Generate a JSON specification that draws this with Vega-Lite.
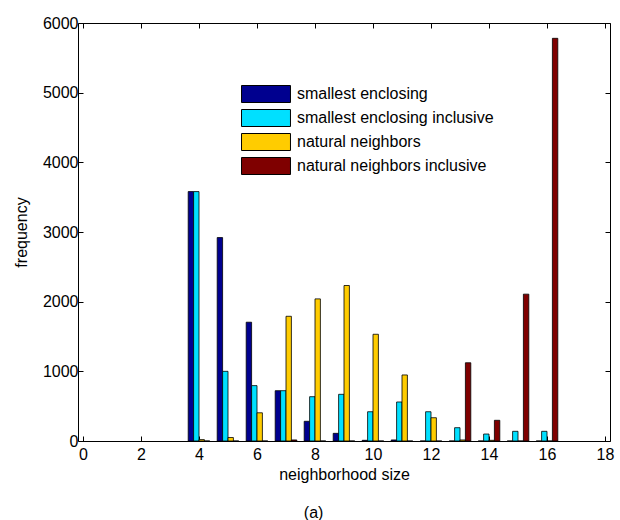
{
  "$schema": "https://vega.github.io/schema/vega-lite/v6.json",
  "width": 532,
  "height": 418,
  "autosize": {"type": "none"},
  "padding": {"left": 78, "top": 23, "right": 10, "bottom": 79},
  "title": {"text": "(a)", "orient": "bottom", "anchor": "middle", "frame": "bounds", "fontSize": 16, "fontWeight": "normal", "font": "Liberation Sans", "color": "black", "offset": 23},
  "data": {"values": [
    {"size": 4, "series": "smallest enclosing", "freq": 3580},
    {"size": 4, "series": "smallest enclosing inclusive", "freq": 3580},
    {"size": 4, "series": "natural neighbors", "freq": 20},
    {"size": 4, "series": "natural neighbors inclusive", "freq": 0},
    {"size": 5, "series": "smallest enclosing", "freq": 2920},
    {"size": 5, "series": "smallest enclosing inclusive", "freq": 1000},
    {"size": 5, "series": "natural neighbors", "freq": 50},
    {"size": 5, "series": "natural neighbors inclusive", "freq": 0},
    {"size": 6, "series": "smallest enclosing", "freq": 1705},
    {"size": 6, "series": "smallest enclosing inclusive", "freq": 795},
    {"size": 6, "series": "natural neighbors", "freq": 405},
    {"size": 6, "series": "natural neighbors inclusive", "freq": 0},
    {"size": 7, "series": "smallest enclosing", "freq": 722},
    {"size": 7, "series": "smallest enclosing inclusive", "freq": 722},
    {"size": 7, "series": "natural neighbors", "freq": 1790},
    {"size": 7, "series": "natural neighbors inclusive", "freq": 15},
    {"size": 8, "series": "smallest enclosing", "freq": 283},
    {"size": 8, "series": "smallest enclosing inclusive", "freq": 636},
    {"size": 8, "series": "natural neighbors", "freq": 2040},
    {"size": 8, "series": "natural neighbors inclusive", "freq": 0},
    {"size": 9, "series": "smallest enclosing", "freq": 110},
    {"size": 9, "series": "smallest enclosing inclusive", "freq": 670},
    {"size": 9, "series": "natural neighbors", "freq": 2232},
    {"size": 9, "series": "natural neighbors inclusive", "freq": 0},
    {"size": 10, "series": "smallest enclosing", "freq": 10},
    {"size": 10, "series": "smallest enclosing inclusive", "freq": 420},
    {"size": 10, "series": "natural neighbors", "freq": 1532},
    {"size": 10, "series": "natural neighbors inclusive", "freq": 0},
    {"size": 11, "series": "smallest enclosing", "freq": 15},
    {"size": 11, "series": "smallest enclosing inclusive", "freq": 560},
    {"size": 11, "series": "natural neighbors", "freq": 948},
    {"size": 11, "series": "natural neighbors inclusive", "freq": 0},
    {"size": 12, "series": "smallest enclosing", "freq": 0},
    {"size": 12, "series": "smallest enclosing inclusive", "freq": 420},
    {"size": 12, "series": "natural neighbors", "freq": 334},
    {"size": 12, "series": "natural neighbors inclusive", "freq": 0},
    {"size": 13, "series": "smallest enclosing", "freq": 0},
    {"size": 13, "series": "smallest enclosing inclusive", "freq": 191},
    {"size": 13, "series": "natural neighbors", "freq": 15},
    {"size": 13, "series": "natural neighbors inclusive", "freq": 1123},
    {"size": 14, "series": "smallest enclosing", "freq": 0},
    {"size": 14, "series": "smallest enclosing inclusive", "freq": 100},
    {"size": 14, "series": "natural neighbors", "freq": 10},
    {"size": 14, "series": "natural neighbors inclusive", "freq": 297},
    {"size": 15, "series": "smallest enclosing", "freq": 0},
    {"size": 15, "series": "smallest enclosing inclusive", "freq": 139},
    {"size": 15, "series": "natural neighbors", "freq": 0},
    {"size": 15, "series": "natural neighbors inclusive", "freq": 2108},
    {"size": 16, "series": "smallest enclosing", "freq": 0},
    {"size": 16, "series": "smallest enclosing inclusive", "freq": 139},
    {"size": 16, "series": "natural neighbors", "freq": 0},
    {"size": 16, "series": "natural neighbors inclusive", "freq": 5780}
  ]},
  "config": {
    "font": "Liberation Sans",
    "view": {"stroke": "black", "strokeWidth": 1},
    "axis": {
      "domain": false,
      "grid": false,
      "tickColor": "black",
      "tickSize": -5,
      "tickWidth": 1,
      "labelColor": "black",
      "labelFontSize": 16,
      "labelFont": "Liberation Sans",
      "titleColor": "black",
      "titleFontSize": 16,
      "titleFontWeight": "normal",
      "titleFont": "Liberation Sans"
    }
  },
  "layer": [
    {
      "encoding": {
        "x": {"field": "size", "type": "quantitative", "scale": {"domain": [0, 18], "nice": false, "zero": false},
              "axis": {"values": [0, 2, 4, 6, 8, 10, 12, 14, 16, 18], "format": "d", "title": "neighborhood size", "labelPadding": 10, "titlePadding": 4, "labelFlush": false}},
        "y": {"field": "freq", "type": "quantitative", "scale": {"domain": [0, 6000], "nice": false},
              "axis": {"values": [0, 1000, 2000, 3000, 4000, 5000, 6000], "format": "d", "title": "frequency", "labelPadding": 5, "titlePadding": 13, "labelFlush": false}},
        "color": {"field": "series", "type": "nominal",
          "scale": {"domain": ["smallest enclosing", "smallest enclosing inclusive", "natural neighbors", "natural neighbors inclusive"],
                    "range": ["#00008F", "#00E0FF", "#FFCC00", "#7F0000"]},
          "legend": {"orient": "none", "legendX": 179, "legendY": 62, "title": null,
                     "symbolType": "M-2.88,-1H2.88V1H-2.88Z", "symbolSize": 289,
                     "symbolStrokeColor": "black", "symbolStrokeWidth": 1, "symbolOpacity": 1,
                     "labelFontSize": 16, "labelFont": "Liberation Sans", "labelColor": "black",
                     "labelOffset": 22, "rowPadding": 2, "labelLimit": 400}}
      },
      "layer": [
        {"transform": [{"filter": "datum.series === 'smallest enclosing'"}],
         "mark": {"type": "bar", "width": 5.4, "xOffset": -8.1, "stroke": "black", "strokeWidth": 0.8}},
        {"transform": [{"filter": "datum.series === 'smallest enclosing inclusive'"}],
         "mark": {"type": "bar", "width": 5.4, "xOffset": -2.7, "stroke": "black", "strokeWidth": 0.8}},
        {"transform": [{"filter": "datum.series === 'natural neighbors'"}],
         "mark": {"type": "bar", "width": 5.4, "xOffset": 2.7, "stroke": "black", "strokeWidth": 0.8}},
        {"transform": [{"filter": "datum.series === 'natural neighbors inclusive'"}],
         "mark": {"type": "bar", "width": 5.4, "xOffset": 8.1, "stroke": "black", "strokeWidth": 0.8}}
      ]
    },
    {
      "mark": {"type": "rule", "opacity": 0},
      "encoding": {
        "x": {"field": "size", "type": "quantitative", "scale": {"domain": [0, 18], "nice": false, "zero": false},
              "axis": {"orient": "top", "values": [0, 2, 4, 6, 8, 10, 12, 14, 16, 18], "labels": false, "title": null}},
        "y": {"field": "freq", "type": "quantitative", "scale": {"domain": [0, 6000], "nice": false},
              "axis": {"orient": "right", "values": [0, 1000, 2000, 3000, 4000, 5000, 6000], "labels": false, "title": null}}
      }
    }
  ],
  "resolve": {"axis": {"x": "independent", "y": "independent"}}
}
